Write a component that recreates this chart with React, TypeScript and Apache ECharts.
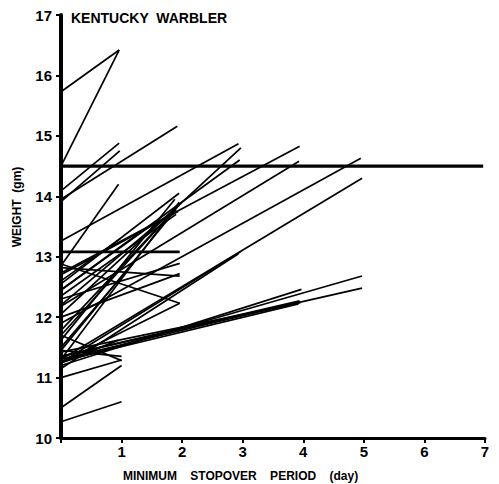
import React, { useEffect, useRef } from "react";
import * as echarts from "echarts";

// Each bird: stopover length (days), first weight, last weight (gm)
const stopoverDays = [
  0.96, 0.96, 0.96, 0.97, 1.92, 0.95, 2.93, 2.97, 2.95, 3.94,
  3.93, 4.95, 4.97, 1.96, 1.96, 1.96, 1.96, 1.96, 1.96, 1.92,
  1.95, 1.9, 1.95, 1.88, 1.95, 2.93, 2.96, 3.97, 3.94, 3.94,
  3.95, 3.92, 4.97, 4.97, 1.0, 1.0, 1.0, 1.0, 0.95, 1.0,
  0.98, 1.6, 1.93, 1.9, 1.95, 1.2,
];
const firstWeight = [
  15.73, 14.5, 14.09, 13.91, 13.95, 12.85, 13.26, 12.05, 12.45, 12.73,
  12.18, 11.9, 11.3, 13.08, 12.88, 12.82, 11.25, 12.3, 12.0, 11.78,
  11.7, 11.45, 12.55, 11.62, 12.2, 11.15, 11.25, 11.2, 11.3, 11.35,
  11.42, 11.27, 11.25, 11.35, 10.27, 11.7, 10.5, 11.0, 11.24, 11.45,
  12.6, 12.45, 12.7, 12.35, 11.3, 11.5,
];
const lastWeight = [
  16.42, 16.42, 14.88, 14.75, 15.16, 14.2, 14.87, 14.8, 14.6, 14.83,
  14.58, 14.63, 14.3, 13.08, 12.23, 12.68, 12.23, 12.89, 12.72, 13.82,
  13.86, 13.78, 14.05, 13.95, 13.85, 13.05, 13.08, 12.46, 12.25, 12.27,
  12.24, 12.22, 12.68, 12.48, 10.6, 11.28, 11.2, 11.29, 11.62, 11.35,
  13.3, 13.6, 13.75, 13.7, 13.9, 12.9,
];
const referenceWeight = 14.5;
const referenceSpan = [0, 6.97];
const xTicks = [1, 2, 3, 4, 5, 6, 7];
const yTicks = [10, 11, 12, 13, 14, 15, 16, 17];

const FONT = "'Liberation Sans', Arial, sans-serif";

export default function App() {
  const ref = useRef<HTMLDivElement>(null);
  useEffect(() => {
    if (!ref.current) return;
    document.body.style.margin = "0";
    const chart = echarts.init(ref.current, undefined, { renderer: "svg" });
    const birdSeries = stopoverDays.map((d, i) => ({
      type: "line",
      data: [
        [0, firstWeight[i]],
        [d, lastWeight[i]],
      ],
      symbol: "none",
      silent: true,
      lineStyle: {
        color: "#000",
        width: firstWeight[i] === lastWeight[i] ? 2.6 : 1.7,
      },
    }));
    chart.setOption({
      animation: false,
      backgroundColor: "#fff",
      grid: { left: 61, right: 14, top: 15, bottom: 46 },
      xAxis: {
        type: "value",
        min: 0,
        max: 7,
        interval: 1,
        axisLine: { show: true, lineStyle: { color: "#000", width: 3 } },
        axisTick: {
          show: true,
          length: 5,
          lineStyle: { color: "#000", width: 2 },
        },
        splitLine: { show: false },
        axisLabel: {
          color: "#000",
          fontFamily: FONT,
          fontWeight: "bold",
          fontSize: 15,
          margin: 6,
          formatter: (v: number) => (xTicks.includes(v) ? String(v) : ""),
        },
      },
      yAxis: {
        type: "value",
        min: 10,
        max: 17,
        interval: 1,
        axisLine: { show: true, lineStyle: { color: "#000", width: 4 } },
        axisTick: {
          show: true,
          length: 5,
          lineStyle: { color: "#000", width: 2 },
        },
        splitLine: { show: false },
        axisLabel: {
          color: "#000",
          fontFamily: FONT,
          fontWeight: "bold",
          fontSize: 15,
          margin: 9,
          formatter: (v: number) => (yTicks.includes(v) ? String(v) : ""),
        },
      },
      graphic: [
        {
          type: "text",
          left: 71,
          top: 11,
          style: {
            text: "KENTUCKY  WARBLER",
            fill: "#000",
            font: `bold 14px ${FONT}`,
          },
        },
        {
          type: "text",
          left: 123,
          top: 470,
          style: {
            text: "MINIMUM    STOPOVER    PERIOD    (day)",
            fill: "#000",
            font: `bold 12px ${FONT}`,
          },
        },
        {
          type: "text",
          x: 17,
          y: 207,
          rotation: Math.PI / 2,
          style: {
            text: "WEIGHT  (gm)",
            fill: "#000",
            font: `bold 12px ${FONT}`,
            align: "center",
            verticalAlign: "middle",
          },
        },
      ],
      series: [
        ...birdSeries,
        {
          type: "line",
          data: [
            [referenceSpan[0], referenceWeight],
            [referenceSpan[1], referenceWeight],
          ],
          symbol: "none",
          silent: true,
          lineStyle: { color: "#000", width: 3.3 },
        },
      ],
    });
    return () => chart.dispose();
  }, []);
  return <div ref={ref} style={{ width: 499, height: 484 }} />;
}
